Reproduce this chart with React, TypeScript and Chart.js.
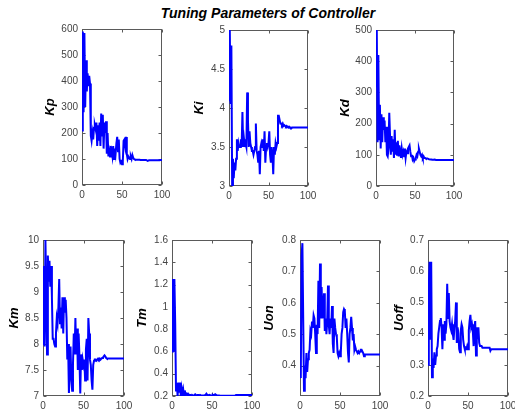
import { useEffect, useRef } from "react";
import { Chart, registerables } from "chart.js";

Chart.register(...registerables);

// ---------------- data ----------------
const iterations: number[] = Array.from({ length: 101 }, (_, i) => i);
const xTicks = [0, 50, 100];

const kpValues = [
  210, 590, 280, 585, 300, 480, 360, 430, 380, 420,
  390, 190, 170, 200, 175, 220, 230, 215, 240, 150,
  230, 170, 240, 150, 275, 190, 270, 140, 240, 200,
  245, 120, 200, 110, 130, 110, 150, 130, 110, 150,
  100, 140, 120, 160, 185, 130, 175, 100, 85, 90,
  80, 90, 170, 175, 150, 185, 120, 100, 110, 105,
  100, 110, 100, 115, 105, 100, 98, 97, 97, 97,
  97, 97, 97, 96, 96, 96, 96, 96, 96, 96,
  96, 95, 93, 94, 95, 95, 95, 95, 95, 95,
  95, 95, 95, 95, 95, 95, 95, 95, 96, 96,
  96,
];
const kpTicks = [0, 100, 200, 300, 400, 500, 600];

const kiValues = [
  4.1, 5.0, 4.05, 4.8, 3.0, 3.35, 3.1, 3.3, 3.2, 3.35,
  3.6, 3.45, 3.55, 3.5, 3.5, 3.6, 3.5, 3.95, 3.5, 3.6,
  3.5, 3.55, 3.5, 4.2, 3.85, 3.5, 3.7, 3.55, 3.5, 3.45,
  3.45, 3.4, 3.45, 3.5, 3.8, 3.45, 3.4, 3.3, 3.45, 3.15,
  3.5, 3.55, 3.5, 3.6, 3.45, 3.7, 3.3, 3.5, 3.55, 3.5,
  3.55, 3.7, 3.4, 3.3, 3.5, 3.4, 3.15, 3.5, 3.4, 3.55,
  3.5, 3.55, 3.9, 3.9, 3.85, 3.8, 3.8, 3.78, 3.8, 3.77,
  3.78, 3.77, 3.76, 3.77, 3.76, 3.75, 3.76, 3.75, 3.75, 3.74,
  3.75, 3.75, 3.75, 3.75, 3.75, 3.75, 3.75, 3.75, 3.75, 3.75,
  3.75, 3.75, 3.75, 3.75, 3.75, 3.75, 3.75, 3.75, 3.75, 3.75,
  3.75,
];
const kiTicks = [3, 3.5, 4, 4.5, 5];

const kdValues = [
  320, 500, 140, 420, 150, 260, 120, 230, 140, 220,
  180, 210, 140, 190, 100, 95, 120, 235, 160, 100,
  160, 110, 150, 90, 180, 100, 140, 100, 145, 95,
  130, 110, 90, 120, 100, 110, 95, 120, 90, 110,
  105, 120, 125, 130, 110, 95, 100, 85, 90, 80,
  85, 90, 100, 95, 110, 120, 110, 100, 95, 100,
  90, 95, 90, 90, 88, 88, 88, 87, 86, 86,
  85, 85, 84, 84, 84, 85, 84, 83, 83, 83,
  83, 83, 83, 83, 83, 83, 83, 83, 83, 83,
  83, 83, 83, 83, 83, 83, 83, 83, 83, 83,
  83,
];
const kdTicks = [0, 100, 200, 300, 400, 500];

const kmValues = [
  8.0, 9.5, 7.95, 10.0, 9.0, 7.8, 9.7, 9.2, 9.6, 9.1,
  9.5, 8.9, 8.1, 8.1, 8.0, 7.95, 8.2, 8.5, 8.4, 8.7,
  9.25, 8.4, 8.7, 8.3, 8.9, 8.2, 8.9, 8.6, 8.85, 8.5,
  7.7, 8.0, 7.06, 7.6, 7.95, 7.3, 7.1, 7.6, 8.2, 7.8,
  8.5, 7.8, 8.3, 7.5, 8.2, 7.75, 7.05, 7.8, 7.5, 7.7,
  7.6, 7.7, 7.3, 7.9, 8.1, 7.3, 8.5, 8.2, 7.7, 7.6,
  7.3, 7.12, 7.6, 7.68, 7.7, 7.7, 7.68, 7.7, 7.72, 7.7,
  7.72, 7.7, 7.72, 7.73, 7.74, 7.76, 7.78, 7.76, 7.73, 7.72,
  7.72, 7.72, 7.72, 7.72, 7.72, 7.72, 7.72, 7.72, 7.72, 7.72,
  7.72, 7.72, 7.72, 7.72, 7.72, 7.72, 7.72, 7.72, 7.72, 7.72,
  7.72,
];
const kmTicks = [7, 7.5, 8, 8.5, 9, 9.5, 10];

const tmValues = [
  0.6, 1.25, 0.6, 1.25, 0.85, 0.25, 0.32, 0.2, 0.32, 0.23,
  0.32, 0.2, 0.27, 0.22, 0.26, 0.21, 0.25, 0.21, 0.22, 0.21,
  0.22, 0.21, 0.21, 0.21, 0.2, 0.21, 0.21, 0.2, 0.21, 0.215,
  0.21, 0.2, 0.21, 0.21, 0.205, 0.21, 0.205, 0.205, 0.205, 0.205,
  0.205, 0.205, 0.21, 0.22, 0.21, 0.205, 0.205, 0.21, 0.205, 0.205,
  0.205, 0.21, 0.205, 0.21, 0.215, 0.21, 0.205, 0.205, 0.205, 0.205,
  0.203, 0.203, 0.203, 0.203, 0.203, 0.203, 0.203, 0.203, 0.203, 0.203,
  0.203, 0.203, 0.203, 0.203, 0.203, 0.203, 0.203, 0.203, 0.203, 0.203,
  0.208, 0.208, 0.208, 0.208, 0.208, 0.208, 0.208, 0.208, 0.208, 0.208,
  0.208, 0.208, 0.208, 0.208, 0.208, 0.208, 0.208, 0.208, 0.208, 0.208,
  0.208,
];
const tmTicks = [0.2, 0.4, 0.6, 0.8, 1, 1.2, 1.4, 1.6];

const uonValues = [
  0.43, 0.36, 0.75, 0.79, 0.55, 0.32, 0.40, 0.36, 0.44, 0.38,
  0.42, 0.44, 0.45, 0.51, 0.50, 0.54, 0.52, 0.56, 0.55, 0.50,
  0.44, 0.53, 0.50, 0.67, 0.52, 0.725, 0.55, 0.65, 0.55, 0.58,
  0.63, 0.51, 0.55, 0.50, 0.54, 0.655, 0.53, 0.50, 0.55, 0.52,
  0.59, 0.47, 0.44, 0.55, 0.52, 0.50, 0.49, 0.44, 0.43, 0.44,
  0.43, 0.44, 0.50, 0.52, 0.57, 0.58, 0.575, 0.52, 0.55, 0.50,
  0.44, 0.41, 0.50, 0.52, 0.555, 0.52, 0.48, 0.50, 0.45, 0.46,
  0.45, 0.45, 0.44, 0.445, 0.44, 0.445, 0.45, 0.45, 0.445, 0.44,
  0.43, 0.435, 0.435, 0.435, 0.435, 0.435, 0.435, 0.435, 0.435, 0.435,
  0.435, 0.435, 0.435, 0.435, 0.435, 0.435, 0.435, 0.435, 0.435, 0.435,
  0.435,
];
const uonTicks = [0.4, 0.5, 0.6, 0.7, 0.8];

const uoffValues = [
  0.30, 0.55, 0.63, 0.38, 0.63, 0.26, 0.32, 0.29, 0.34, 0.30,
  0.33, 0.35, 0.36, 0.40, 0.42, 0.44, 0.45, 0.42, 0.35, 0.43,
  0.38, 0.44, 0.40, 0.43, 0.56, 0.45, 0.53, 0.44, 0.42, 0.41,
  0.43, 0.40, 0.38, 0.42, 0.44, 0.50, 0.37, 0.42, 0.40, 0.35,
  0.34, 0.41, 0.43, 0.42, 0.38, 0.36, 0.35, 0.35, 0.35, 0.36,
  0.35, 0.41, 0.44, 0.46, 0.42, 0.43, 0.41, 0.36, 0.42, 0.44,
  0.33, 0.42, 0.40, 0.42, 0.37, 0.36, 0.36, 0.36, 0.355, 0.355,
  0.355, 0.355, 0.355, 0.355, 0.355, 0.355, 0.355, 0.355, 0.345, 0.35,
  0.35, 0.35, 0.35, 0.35, 0.35, 0.35, 0.35, 0.35, 0.35, 0.35,
  0.35, 0.35, 0.35, 0.35, 0.35, 0.35, 0.35, 0.35, 0.35, 0.35,
  0.35,
];
const uoffTicks = [0.2, 0.3, 0.4, 0.5, 0.6, 0.7];

const figureTitle = "Tuning Parameters of Controller";

// ---------------- layout / style ----------------
const FONT = "'Liberation Sans', Arial, Helvetica, sans-serif";
const TICK_COLOR = "#444444";
const FRAME_COLOR = "#5a5a5a";
const LINE_COLOR = "#0000ff";
const PAD_TOP = 8;
const PAD_RIGHT = 14;
const X_AXIS_H = 18;
const TITLE_FONT_SIZE = 13;

type Panel = {
  name: string;
  values: number[];
  ticks: number[];
  min: number;
  max: number;
  box: [number, number, number, number]; // left, top, right, bottom of plot area
  titleX: number;
};

const panels: Panel[] = [
  { name: "Kp", values: kpValues, ticks: kpTicks, min: 0, max: 600, box: [82, 27, 162, 185], titleX: 51 },
  { name: "Ki", values: kiValues, ticks: kiTicks, min: 3, max: 5, box: [229, 28, 308, 186], titleX: 200 },
  { name: "Kd", values: kdValues, ticks: kdTicks, min: 0, max: 500, box: [376, 28, 454, 186], titleX: 346 },
  { name: "Km", values: kmValues, ticks: kmTicks, min: 7, max: 10, box: [43, 238, 124, 396], titleX: 15 },
  { name: "Tm", values: tmValues, ticks: tmTicks, min: 0.2, max: 1.6, box: [172, 238, 252, 396], titleX: 143 },
  { name: "Uon", values: uonValues, ticks: uonTicks, min: 0.303, max: 0.8, box: [300, 238, 380, 396], titleX: 270 },
  { name: "Uoff", values: uoffValues, ticks: uoffTicks, min: 0.2, max: 0.7, box: [428, 238, 508, 396], titleX: 400 },
];

const framePlugin = {
  id: "matlabFrame",
  beforeDatasetsDraw(chart: any) {
    const { ctx, chartArea: a, scales } = chart;
    ctx.save();
    ctx.strokeStyle = FRAME_COLOR;
    ctx.lineWidth = 1;
    const l = Math.round(a.left) + 0.5;
    const t = Math.round(a.top) + 0.5;
    const r = Math.round(a.right) - 0.5;
    const b = Math.round(a.bottom) - 0.5;
    ctx.strokeRect(l, t, r - l, b - t);
    const tl = 3;
    ctx.beginPath();
    for (const tk of scales.y.ticks) {
      const py = Math.round(scales.y.getPixelForValue(tk.value)) + 0.5;
      ctx.moveTo(l, py);
      ctx.lineTo(l + tl, py);
      ctx.moveTo(r, py);
      ctx.lineTo(r - tl, py);
    }
    for (const tk of scales.x.ticks) {
      const px = Math.round(scales.x.getPixelForValue(tk.value)) + 0.5;
      ctx.moveTo(px, b);
      ctx.lineTo(px, b - tl);
      ctx.moveTo(px, t);
      ctx.lineTo(px, t + tl);
    }
    ctx.stroke();
    ctx.restore();
  },
};

function SubPlot({ p }: { p: Panel }) {
  const ref = useRef<HTMLCanvasElement | null>(null);
  const [left, top, right, bottom] = p.box;
  const titleHalf = (TITLE_FONT_SIZE * 1.2) / 2;
  const canvasLeft = Math.round(p.titleX - titleHalf);
  const yAxisW = left - canvasLeft;
  const canvasTop = top - PAD_TOP;
  const width = right - canvasLeft + PAD_RIGHT;
  const height = bottom - top + PAD_TOP + X_AXIS_H;

  useEffect(() => {
    if (!ref.current) return;
    const data = iterations.map((x, i) => ({ x, y: p.values[i] }));
    const chart = new Chart(ref.current, {
      type: "line",
      data: {
        datasets: [
          {
            label: p.name,
            data,
            borderColor: LINE_COLOR,
            backgroundColor: LINE_COLOR,
            borderWidth: 2,
            pointRadius: 0,
            tension: 0,
            fill: false,
          },
        ],
      },
      options: {
        animation: false,
        responsive: false,
        devicePixelRatio: 1,
        events: [],
        layout: { padding: { top: PAD_TOP, right: PAD_RIGHT, left: 0, bottom: 0 } },
        plugins: { legend: { display: false }, tooltip: { enabled: false }, title: { display: false } },
        scales: {
          x: {
            type: "linear",
            min: 0,
            max: 100,
            grid: { display: false, drawTicks: false },
            border: { display: false },
            afterBuildTicks: (s: any) => {
              s.ticks = xTicks.map((v) => ({ value: v }));
            },
            afterFit: (s: any) => {
              s.height = X_AXIS_H;
            },
            ticks: {
              color: TICK_COLOR,
              font: { family: FONT, size: 10 },
              padding: 4,
              maxRotation: 0,
              autoSkip: false,
              callback: (v: any) => String(v),
            },
          },
          y: {
            type: "linear",
            min: p.min,
            max: p.max,
            grid: { display: false, drawTicks: false },
            border: { display: false },
            afterBuildTicks: (s: any) => {
              s.ticks = p.ticks.map((v) => ({ value: v }));
            },
            afterFit: (s: any) => {
              s.width = yAxisW;
            },
            title: {
              display: true,
              text: p.name,
              color: "#000000",
              padding: 0,
              font: { family: FONT, size: TITLE_FONT_SIZE, weight: "bold", style: "italic" },
            },
            ticks: {
              color: TICK_COLOR,
              font: { family: FONT, size: 10 },
              padding: 4,
              autoSkip: false,
              callback: (v: any) => String(v),
            },
          },
        },
      },
      plugins: [framePlugin],
    } as any);
    return () => chart.destroy();
  }, [p, yAxisW]);

  return (
    <div style={{ position: "absolute", left: canvasLeft, top: canvasTop, width, height }}>
      <canvas ref={ref} width={width} height={height} style={{ display: "block", width, height }} />
    </div>
  );
}

export default function App() {
  return (
    <div
      style={{
        position: "fixed",
        left: 0,
        top: 0,
        width: 515,
        height: 412,
        overflow: "hidden",
        background: "#ffffff",
      }}
    >
      <div
        style={{
          position: "absolute",
          left: 0,
          width: 536,
          top: 5,
          textAlign: "center",
          fontFamily: FONT,
          fontWeight: "bold",
          fontStyle: "italic",
          fontSize: 14,
          lineHeight: "16px",
          color: "#000000",
          whiteSpace: "nowrap",
        }}
      >
        {figureTitle}
      </div>
      {panels.map((p) => (
        <SubPlot key={p.name} p={p} />
      ))}
    </div>
  );
}
